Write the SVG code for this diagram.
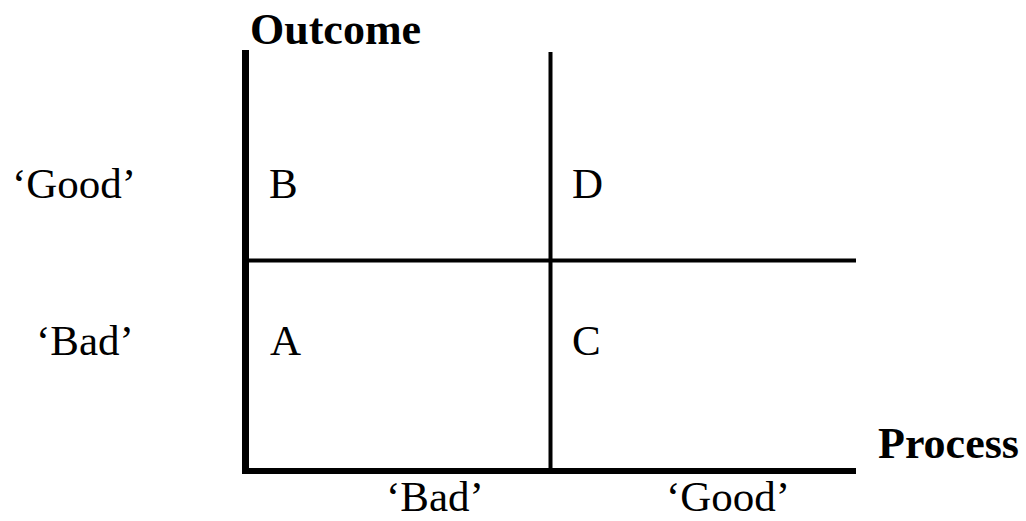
<svg xmlns="http://www.w3.org/2000/svg" width="1026" height="521" viewBox="0 0 1026 521">
<style>
.t{font-family:"Liberation Serif","Times New Roman",serif;font-size:43px;fill:#000}
.b{font-weight:bold;font-size:44px}
.ax{stroke:#000;fill:none}
</style>
<rect width="1026" height="521" fill="#fff"/>
<g id="connectors">
<line class="ax" x1="245.5" y1="50" x2="245.5" y2="474" stroke-width="7"/>
<line class="ax" x1="242" y1="471" x2="856" y2="471" stroke-width="6"/>
<line class="ax" x1="249" y1="260.5" x2="856" y2="260.5" stroke-width="4"/>
<line class="ax" x1="550.5" y1="52" x2="550.5" y2="471" stroke-width="4"/>
</g>
<g id="axis-labels">
<text class="t b" x="250" y="44">Outcome</text>
<text class="t b" x="878" y="458">Process</text>
</g>
<g id="row-labels">
<text class="t" x="12" y="198">‘Good’</text>
<text class="t" x="36" y="355">‘Bad’</text>
</g>
<g id="col-labels">
<text class="t" x="386" y="511">‘Bad’</text>
<text class="t" x="666" y="511">‘Good’</text>
</g>
<g id="cell-B"><text class="t" x="269" y="198">B</text></g>
<g id="cell-D"><text class="t" x="572" y="198">D</text></g>
<g id="cell-A"><text class="t" x="270" y="355">A</text></g>
<g id="cell-C"><text class="t" x="572" y="355">C</text></g>
</svg>
